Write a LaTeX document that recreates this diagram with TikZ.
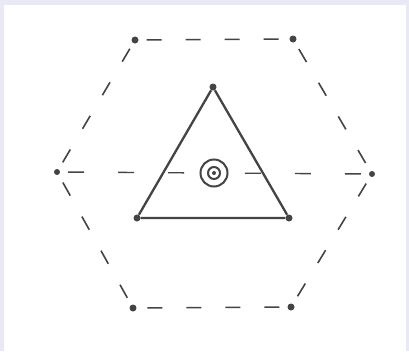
\documentclass[tikz,border=0pt]{standalone}
\usetikzlibrary{positioning}
\definecolor{pencil}{RGB}{68,68,68}
\definecolor{framelilac}{RGB}{232,233,245}

\begin{document}
\begin{tikzpicture}[
        x=1pt, y=-1pt,
        dot/.style={circle, fill=pencil, inner sep=0pt, minimum size=7pt},
        ring/.style={circle, draw=pencil, line width=2pt, inner sep=0pt},
        hexedge/.style={draw=pencil, line width=1.6pt, dash pattern=on 15pt off 24pt, dash phase=-8pt},
        midline/.style={draw=pencil, line width=1.4pt, dash pattern=on 16pt off 34pt, dash phase=-8pt},
        triedge/.style={draw=pencil, line width=2.3pt}
    ]
        % paper and frame
        \fill[framelilac] (0,0) rectangle (409,351);
        \fill[white] (4,5) rectangle (406,351);

        % hexagon corners
        \node[dot] (htl) at (135,40) {};
        \node[dot] (htr) at (293,39) {};
        \node[dot, minimum size=6pt] (hr) at (372,174) {};
        \node[dot] (hbr) at (291,307) {};
        \node[dot] (hbl) at (133,308) {};
        \node[dot, minimum size=6pt] (hl) at (57,172) {};

        % triangle corners
        \node[dot] (ttop) at (213,87) {};
        \node[dot] (tbl) at (137,218) {};
        \node[dot] (tbr) at (289,218) {};

        % target in the middle
        \node[ring, minimum size=27pt] (target) at (214,173) {};
        \node[ring, minimum size=12pt] (inner) at (target.center) {};
        \node[dot, minimum size=4pt] (bull) at (target.center) {};

        \draw[hexedge] (htl) -- (htr);
        \draw[hexedge] (htr) -- (hr);
        \draw[hexedge] (hr) -- (hbr);
        \draw[hexedge] (hbr) -- (hbl);
        \draw[hexedge] (hbl) -- (hl);
        \draw[hexedge] (hl) -- (htl);

        \draw[midline] (hl) -- (target);
        \draw[midline] (hr) -- (target);

        \draw[triedge] (ttop) -- (tbr) -- (tbl) -- (ttop);
    \end{tikzpicture}
\end{document}
